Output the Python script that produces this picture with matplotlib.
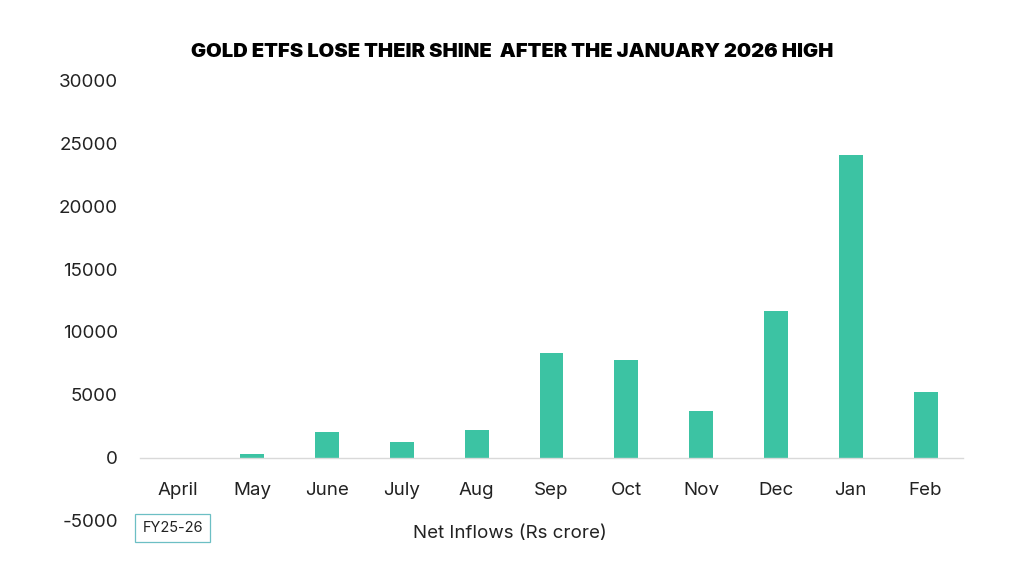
import matplotlib
matplotlib.use("Agg")
import matplotlib.pyplot as plt
import numpy as np

plt.rcParams["font.family"] = ["Inter", "DejaVu Sans"]
plt.rcParams["axes.unicode_minus"] = False

MONTHS = ["April", "May", "June", "July", "Aug", "Sep", "Oct", "Nov", "Dec", "Jan", "Feb"]
NET_INFLOWS = [-6, 292, 2081, 1256, 2190, 8363, 7743, 3742, 11647, 24040, 5255]

BAR_COLOR = "#3cc3a3"

fig = plt.figure(figsize=(10.24, 5.76), dpi=100)
ax = fig.add_axes([0.1367, 0.0955, 0.8037, 0.7656])

x = np.arange(len(MONTHS))
ax.bar(x, NET_INFLOWS, width=0.32, color=BAR_COLOR, zorder=2)

ax.set_xlim(-0.5, len(MONTHS) - 0.5)
ax.set_ylim(-5000, 30000)
ax.set_yticks(np.arange(-5000, 30001, 5000))
ax.tick_params(axis="y", length=0, pad=16, labelsize=13.5, labelcolor="#222222")

for side in ["top", "right", "left"]:
    ax.spines[side].set_visible(False)
ax.spines["bottom"].set_position(("data", 0))
ax.spines["bottom"].set_color("#d9d9d9")
ax.spines["bottom"].set_linewidth(1.0)
ax.set_xticks(x)
ax.set_xticklabels(MONTHS)
ax.tick_params(axis="x", length=0, pad=17, labelsize=13.5, labelcolor="#222222")

fig.text(0.5, 0.91, "GOLD ETFS LOSE THEIR SHINE  AFTER THE JANUARY 2026 HIGH",
         ha="center", va="center", fontsize=14.5, fontweight="black", color="black")
fig.text(0.498, 0.073, "Net Inflows (Rs crore)", ha="center", va="center",
         fontsize=13.5, color="#222222")
fig.text(0.1685, 0.083, "FY25-26", ha="center", va="center", fontsize=10.5,
         color="#222222",
         bbox=dict(boxstyle="square,pad=0.5", facecolor="white", edgecolor="#6cbfc4", linewidth=0.9))

fig.savefig("out.png", dpi=100)
